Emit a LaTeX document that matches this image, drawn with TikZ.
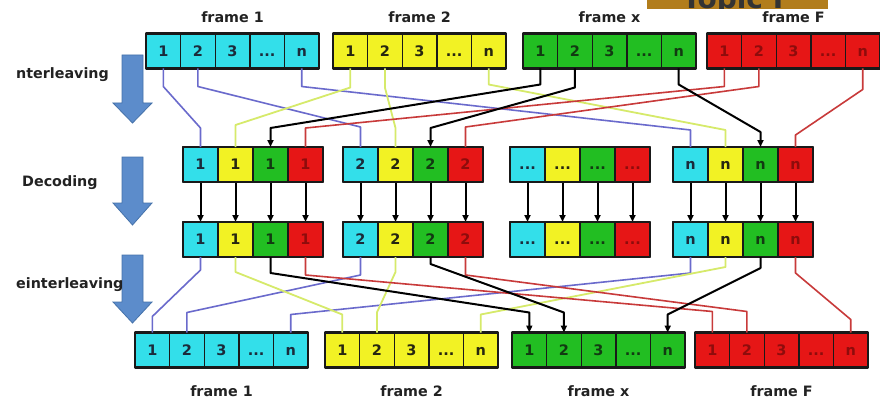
\documentclass[tikz,border=0pt]{standalone}
\usepackage{fontspec}
\setmainfont{DejaVu Sans}
\usetikzlibrary{calc,arrows.meta}
\definecolor{col1}{HTML}{33DFEA}
\definecolor{col2}{HTML}{F2F224}
\definecolor{col3}{HTML}{22BE22}
\definecolor{col4}{HTML}{E61616}
\definecolor{txt1}{HTML}{1B2B3B}
\definecolor{txt2}{HTML}{262610}
\definecolor{txt3}{HTML}{123A12}
\definecolor{txt4}{HTML}{8E0C0C}
\definecolor{lblue}{HTML}{6A6ACC}
\definecolor{lyel}{HTML}{D6EA6A}
\definecolor{lred}{HTML}{C83A3A}
\definecolor{arrfill}{HTML}{5C8CCB}
\definecolor{arrdraw}{HTML}{4572AA}
\definecolor{topicbg}{HTML}{B27D1C}
\definecolor{labtxt}{HTML}{222222}
\newcommand\celltxt[1]{\ifcase#1\or 1\or 2\or 3\or ...\or n\fi}
\begin{document}
\begin{tikzpicture}[x=1pt,y=-1pt,
  cell/.style={draw=black!90, line width=1.4pt, inner sep=0pt, outer sep=0pt,
    minimum height=35pt, text height=10.5pt, text depth=0pt,
    font=\bfseries\fontsize{14.5}{16}\selectfont},
  framebox/.style={draw=black!90, line width=2.2pt},
  lbl/.style={font=\bfseries\fontsize{14.3}{16}\selectfont, text=labtxt, inner sep=0pt},
  conn1/.style={draw=lblue, line width=1.6pt},
  conn2/.style={draw=lyel, line width=1.8pt},
  conn3/.style={draw=black, line width=2pt, -{Triangle[length=7pt,width=6pt]}},
  conn4/.style={draw=lred, line width=1.6pt},
  decarrow/.style={draw=black, line width=2pt, -{Triangle[length=7pt,width=6pt]}},
  barrow/.style={fill=arrfill, draw=arrdraw, line width=0.8pt, line join=miter},
  line join=round]
\useasboundingbox (0,0) rectangle (880,401);
\fill[white] (0,0) rectangle (880,401);

% Topic F (cut off at the top edge)
\begin{scope}
\clip (647,0) rectangle (828,9);
\fill[topicbg] (647,0) rectangle (828,9);
\node[font=\bfseries\fontsize{28}{28}\selectfont, text=black!80, anchor=base,
  inner sep=0pt, text depth=0pt] (topic) at (737,9) {Topic F};
\end{scope}

% top frames
\foreach \f/\l in {1/146,2/333,3/523,4/707} {
  \foreach \i in {1,...,5}
    \node[cell, fill=col\f, text=txt\f, minimum width=34.6pt] (T-\f-\i) at ({\l+17.3+34.6*(\i-1)},51) {\celltxt{\i}};
  \draw[framebox] (T-\f-1.north west) rectangle (T-\f-5.south east);
}
% bottom frames
\foreach \f/\l in {1/135,2/325,3/512,4/695} {
  \foreach \i in {1,...,5}
    \node[cell, fill=col\f, text=txt\f, minimum width=34.6pt] (Z-\f-\i) at ({\l+17.3+34.6*(\i-1)},350) {\celltxt{\i}};
  \draw[framebox] (Z-\f-1.north west) rectangle (Z-\f-5.south east);
}
% decoding groups
\foreach \g/\l/\n in {1/183/1,2/343/2,3/510/4,4/673/5} {
  \foreach \c in {1,...,4} {
    \node[cell, fill=col\c, text=txt\c, minimum width=35pt] (A-\g-\c) at ({\l+17.5+35*(\c-1)},164.5) {\celltxt{\n}};
    \node[cell, fill=col\c, text=txt\c, minimum width=35pt] (B-\g-\c) at ({\l+17.5+35*(\c-1)},239.5) {\celltxt{\n}};
    \draw[decarrow] (A-\g-\c.south) -- (B-\g-\c.north);
  }
  \draw[framebox] (A-\g-1.north west) rectangle (A-\g-4.south east);
  \draw[framebox] (B-\g-1.north west) rectangle (B-\g-4.south east);
}

% frame labels
\foreach \f/\t in {1/1,2/2,3/x,4/F} {
  \node[lbl] (TL-\f) at ($(T-\f-3.north)+(0,-16.5)$) {frame \t};
  \node[lbl] (BL-\f) at ($(Z-\f-3.south)+(0,24)$) {frame \t};
}

% interleaving connectors
\foreach \c/\i/\g/\da/\db in {1/1/1/18/19, 1/2/2/18/20, 1/5/4/18/17,
  2/1/1/19/22, 2/2/2/19/19, 2/5/4/16/17,
  4/1/1/18/19, 4/2/2/18/20, 4/5/4/21/12,
  3/1/1/16/19, 3/2/2/19/19, 3/5/4/16/15}
  \draw[conn\c] (T-\c-\i.south) -- ++(0,\da) -- ($(A-\g-\c.north)+(0,-\db)$) -- (A-\g-\c.north);

% deinterleaving connectors
\foreach \c/\g/\i/\da/\db in {1/1/1/13/16, 1/2/2/18/20, 1/4/5/16/18,
  2/1/1/15/18, 2/2/2/15/20, 2/4/5/10/18,
  4/1/1/18/21, 4/2/2/18/21, 4/4/5/16/13,
  3/1/1/16/20, 3/2/2/7/20, 3/4/5/11/18}
  \draw[conn\c] (B-\g-\c.south) -- ++(0,\da) -- ($(Z-\c-\i.north)+(0,-\db)$) -- (Z-\c-\i.north);

% big blue arrows
\draw[barrow] (122,55) -- (143,55) -- (143,103) -- (152,103) -- (132.5,123) -- (113,103) -- (122,103) -- cycle;
\draw[barrow] (122,157) -- (143,157) -- (143,203) -- (152,203) -- (132.5,225) -- (113,203) -- (122,203) -- cycle;
\draw[barrow] (122,255) -- (143,255) -- (143,302) -- (152,302) -- (132.5,323) -- (113,302) -- (122,302) -- cycle;

% side labels
\node[lbl, anchor=west] (lab-il) at (16,75) {nterleaving};
\node[lbl, anchor=west] (lab-dec) at (22,183) {Decoding};
\node[lbl, anchor=west] (lab-dil) at (16,285) {einterleaving};
\end{tikzpicture}
\end{document}
